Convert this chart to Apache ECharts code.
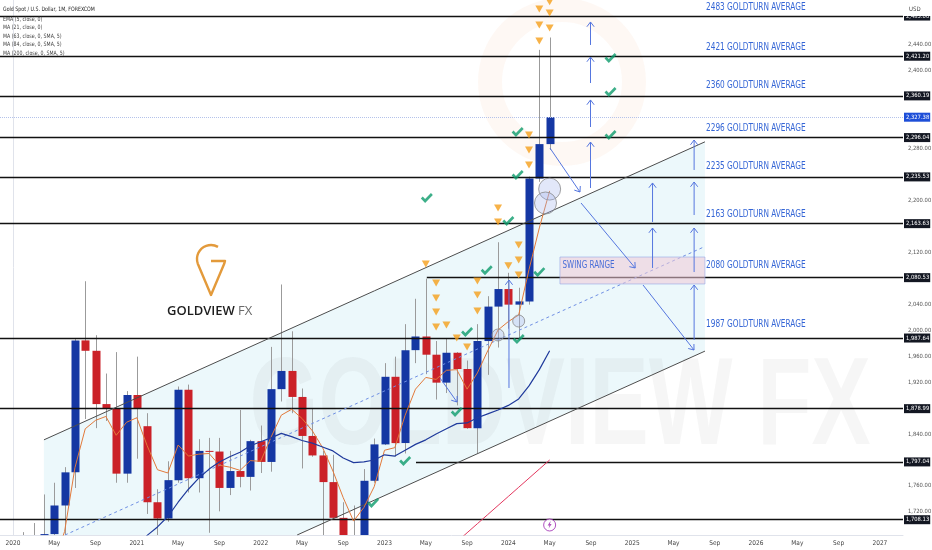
<!DOCTYPE html>
<html><head><meta charset="utf-8">
<script src="https://cdn.jsdelivr.net/npm/echarts@6/dist/echarts.min.js"></script>
<style>html,body{margin:0;padding:0;background:#fff}#c{width:932px;height:550px}</style>
</head><body><div id="c"></div><script>
// ---------- DATA ----------
const months = ['2020-01','2020-02','2020-03','2020-04','2020-05','2020-06','2020-07','2020-08','2020-09','2020-10','2020-11','2020-12',
'2021-01','2021-02','2021-03','2021-04','2021-05','2021-06','2021-07','2021-08','2021-09','2021-10','2021-11','2021-12',
'2022-01','2022-02','2022-03','2022-04','2022-05','2022-06','2022-07','2022-08','2022-09','2022-10','2022-11','2022-12',
'2023-01','2023-02','2023-03','2023-04','2023-05','2023-06','2023-07','2023-08','2023-09','2023-10','2023-11','2023-12',
'2024-01','2024-02','2024-03','2024-04','2024-05'];
const open  = [1517,1589,1585,1577,1686,1730,1781,1984,1968,1886,1879,1779, 1900,1852,1735,1710,1769,1908,1772,1814,1813,1757,1783,1774, 1829,1797,1909,1937,1897,1837,1807,1766,1711,1660,1633,1768, 1824,1928,1826,1969,1990,1962,1919,1965,1940,1849,1983,2036, 2063,2039,2044,2233,2286];
const high  = [1611,1689,1703,1747,1765,1789,1986,2075,1992,1933,1966,1906, 1959,1872,1755,1798,1913,1916,1832,1834,1834,1814,1877,1831, 1853,1974,2070,1998,1910,1880,1814,1808,1735,1730,1786,1833, 1949,1959,2009,2048,2079,1983,1987,1966,1953,2009,2052,2135, 2088,2065,2236,2431,2450];
const low   = [1517,1563,1451,1567,1670,1671,1757,1863,1849,1860,1765,1765, 1802,1717,1677,1705,1765,1750,1750,1688,1721,1746,1758,1753, 1780,1782,1890,1872,1787,1805,1681,1709,1615,1617,1616,1765, 1823,1805,1810,1949,1932,1893,1903,1884,1848,1810,1931,1973, 2002,1984,2039,2228,2277];
const close = [1589,1585,1577,1686,1730,1781,1984,1968,1886,1879,1779,1900, 1880,1735,1710,1769,1908,1772,1814,1813,1757,1783,1774,1829, 1797,1909,1937,1897,1837,1807,1766,1711,1660,1633,1768,1824, 1928,1826,1969,1990,1962,1919,1965,1940,1849,1983,2036,2063, 2039,2044,2233,2286,2327.38];
const ema5  = [1523,1544,1555,1600,1644,1690,1788,1848,1861,1867,1838,1858, 1865,1822,1785,1780,1823,1806,1809,1810,1792,1789,1784,1799, 1798,1835,1869,1878,1864,1845,1819,1783,1742,1706,1727,1759, 1815,1819,1869,1909,1927,1924,1938,1939,1909,1934,1968,2000, 2013,2023,2093,2157,2214];
const ma21Start = '2021-01';
const ma21 = [1665,1684,1697,1713,1735,1755,1772,1786,1797,1805,1812,1822, 1828,1834,1841,1836,1830,1826,1820,1814,1803,1796,1797,1800, 1808,1806,1815,1824,1831,1840,1848,1856,1857,1865,1871,1877, 1884,1894,1914,1939,1968];
const ma63Start = '2023-08';
const ma63 = [1674,1688,1702,1716,1730,1744,1758,1772,1786,1800];

const levels      = [2483.00,2421.20,2360.19,2296.04,2235.53,2163.63,2080.53,1987.64,1878.99,1797.04,1708.13];
const levelStarts = [null,null,null,null,null,null,40.1,null,null,39.05,null];
const lastPrice = 2327.38;

const goldturnText  = ['2483 GOLDTURN AVERAGE','2421 GOLDTURN AVERAGE','2360 GOLDTURN AVERAGE','2296 GOLDTURN AVERAGE','2235 GOLDTURN AVERAGE','2163 GOLDTURN AVERAGE','2080 GOLDTURN AVERAGE','1987 GOLDTURN AVERAGE'];
const goldturnPrice = [2496.9,2435.4,2376.9,2310.8,2252.3,2178.5,2100.0,2009.2];

const xTickLabels = ['2020','May','Sep','2021','May','Sep','2022','May','Sep','2023','May','Sep','2024','May','Sep','2025','May','Sep','2026','May','Sep','2027'];
const yTickValues = [1720,1760,1840,1920,1960,2000,2040,2120,2200,2280,2400,2440];

// drawings, in [month index, price]
const channelUpper = [[3,1831],[67.05,2289.5]];
const channelLower = [[27.53,1684.6],[67.05,1967.5]];
const channelMid   = [[5.04,1684.6],[67.05,2128.5]];
const channelFill  = [[3,1831],[67.05,2289.5],[67.05,1967.5],[27.53,1684.6],[3,1684.6]];
const triangles = [[40,2101.5],[41,2072.3],[41,2049.2],[41,2027.7],[41,2004.6],[42,2007.7],[43,1987.7],[44,1973.8],[45,2075.4],[45,2053.9],[45,2029.2],[47,2187.7],[47,2166.2],[48,2099],[49,2130.8],[49,2107.7],[49,2084.6],[50,2300],[50,2276.9],[50,2253.8],[51,2493.9],[51,2469.2],[51,2444.6],[52,2505],[52,2487.7],[52,2464.6]];
const checks = [[40.1,2203],[45.9,2092],[44,1997],[49,1986],[51,2089],[43,1874],[38,1798.5],[34.9,1734],[48.9,2304.6],[48.9,2238.5],[48,2167.7],[57.9,2418.5],[57.9,2366.2],[57.9,2300]];
const circles = [[52,2216.8,22],[51.6,2195.4,22],[47,1992.3,12],[49,2013.8,12]];
const arrows = [[55.96,2438.5,55.96,2473.9],[55.96,2380,55.96,2420],[55.96,2312.3,55.96,2353.9],[55.96,2218.5,55.96,2289.2],
 [61.97,2095.4,61.97,2156.9],[61.97,2166.2,61.97,2226.2],[66,1984.6,66,2069.2],[66,2089.2,66,2156.9],[66,2176.9,66,2227.7],[66,2246.2,66,2292.3],
 [48.06,1910.8,48.06,2076.9],[52.03,2280,54.94,2212.3],[55.04,2195.4,60.29,2095.4],[61.05,2069.2,65.99,1969.2],[41.38,1926.1,43.02,1889.2]];
const swingBox = [[53.0,2112.3],[67.05,2070.8]];
const eventIcon = [[52,1700]];

// ---------- CHART ----------
const mi = s => (+s.slice(0,4)-2020)*12 + (+s.slice(5,7)) - 1;
const X_MIN=-1.26, X_MAX=86.24, Y_MIN=1684.6, Y_MAX=2507.7;
const fmt = v => { const [a,b]=v.toFixed(2).split('.'); return a.replace(/\B(?=(\d{3})+(?!\d))/g,',')+'.'+b; };
const BLUE='#1537a3', RED='#cb2128', ARROW='#5576df';
const NARROW="'Liberation Sans Narrow','DejaVu Sans Condensed','Roboto Condensed','Liberation Sans',sans-serif";
const chart = echarts.init(document.getElementById('c'));

const ma21Data = ma21.map((v,i)=>[mi(ma21Start)+i, v]);
const ma63Data = ma63.map((v,i)=>[mi(ma63Start)+i, v]);

const mlData = levels.map((p,i)=> levelStarts[i]==null ? {name:fmt(p), yAxis:p}
  : [{name:fmt(p), coord:[levelStarts[i],p]},{coord:[X_MAX,p]}]);
mlData.unshift({name:fmt(lastPrice), yAxis:lastPrice, lineStyle:{color:'#b4c2ea', type:'dotted', width:1}, label:{backgroundColor:'#1d4ed8'}});

const legendLines = ['Gold Spot / U.S. Dollar, 1M, FOREXCOM','EMA (5, close, 0)','MA (21, close, 0)','MA (63, close, 0, SMA, 5)','MA (84, close, 0, SMA, 5)','MA (200, close, 0, SMA, 5)'];
const legendY = [9,19,27.5,36,44.5,53];
const D2R = Math.PI/180;

const option = {
  animation:false,
  backgroundColor:'#ffffff',
  grid:{left:0,right:29,top:0,bottom:15,containLabel:false,outerBoundsMode:'none'},
  xAxis:{type:'value',min:X_MIN,max:X_MAX,
    axisLine:{show:true,lineStyle:{color:'#e0e3eb'}},axisTick:{show:false},splitLine:{show:false},
    axisLabel:{customValues:xTickLabels.map((_,i)=>i*4),formatter:v=>xTickLabels[Math.round(v/4)],fontSize:6.5,color:'#444',margin:5,fontFamily:NARROW}},
  yAxis:{type:'value',position:'right',min:Y_MIN,max:Y_MAX,scale:true,
    axisLine:{show:true,lineStyle:{color:'#e0e3eb'}},axisTick:{show:false},splitLine:{show:false},
    axisLabel:{customValues:yTickValues,formatter:v=>fmt(v),fontSize:5.8,color:'#555',margin:5,fontFamily:NARROW}},
  graphic:[
    {type:'circle',z:2,silent:true,shape:{cx:562,cy:82,r:72},style:{fill:'none',stroke:'rgba(240,165,110,0.08)',lineWidth:24}},
    {type:'text',z:2,silent:true,x:560,y:410,scaleX:0.71,style:{x:0,y:0,text:'GOLDVIEW FX',font:'bold 125px "Liberation Sans", sans-serif',fill:'rgba(90,90,90,0.055)',align:'center',verticalAlign:'middle'}},
    {type:'arc',z:3,silent:true,shape:{cx:211,cy:259,r:14,startAngle:160*D2R,endAngle:300*D2R,clockwise:true},style:{fill:'none',stroke:'#e39a3b',lineWidth:2.4}},
    {type:'polyline',z:3,silent:true,shape:{points:[[197.8,263.8],[211,295],[224.2,263.8],[225,261],[211,261]]},style:{fill:'none',stroke:'#e39a3b',lineWidth:2.4,lineJoin:'round'}},
    {type:'text',z:3,silent:true,style:{x:167,y:311,text:'GOLDVIEW',font:'600 13px "Open Sans", sans-serif',fill:'#1e1e1e',align:'left',verticalAlign:'middle'}},
    {type:'text',z:3,silent:true,style:{x:238,y:311,text:'FX',font:'400 13px "Open Sans", sans-serif',fill:'#6a6a6a',align:'left',verticalAlign:'middle'}},
    ...legendLines.map((t,i)=>({type:'text',z:20,silent:true,x:3,y:legendY[i],scaleX:0.87,style:{x:0,y:0,text:t,font:'6px '+NARROW,fill:i===0?'#222':'#444',align:'left',verticalAlign:'middle'}})),
    {type:'rect',z:30,silent:true,shape:{x:904,y:0,width:28,height:16},style:{fill:'#fff'}},
    {type:'text',z:31,silent:true,style:{x:909,y:9,text:'USD',font:'6px '+NARROW,fill:'#444',align:'left',verticalAlign:'middle'}}
  ],
  series:[
    {type:'custom',z:1,silent:true,data:[channelFill[0]],
      renderItem:(p,api)=>({type:'polygon',shape:{points:channelFill.map(d=>api.coord(d))},style:{fill:'rgba(178,226,240,0.25)'}})},
    {type:'custom',name:'candles',z:4,silent:true,
      data:months.map((s,i)=>[mi(s),open[i],close[i],low[i],high[i]]),
      encode:{x:0,y:[1,2,3,4]},
      renderItem:(params,api)=>{
        const m=api.value(0),o=api.value(1),c=api.value(2),l=api.value(3),h=api.value(4);
        const cs=params.coordSys, top=cs.y, bot=cs.y+cs.height;
        const cl=y=>Math.max(top,Math.min(bot,y));
        const x=Math.round(api.coord([m,o])[0]);
        const yo=api.coord([m,o])[1], yc=api.coord([m,c])[1], yh=api.coord([m,h])[1], yl=api.coord([m,l])[1];
        const ch=[];
        const wt=cl(yh), wb=cl(yl);
        if(wb>wt) ch.push({type:'line',shape:{x1:x+0.5,y1:wt,x2:x+0.5,y2:wb},style:{stroke:'#9b9b9b',lineWidth:1}});
        const bt=cl(Math.min(yo,yc)), bb=cl(Math.max(yo,yc));
        if(bb>bt || (bt>top && bt<bot)) ch.push({type:'rect',shape:{x:x-3.5,y:bt,width:8,height:Math.max(1,bb-bt)},style:{fill:c>=o?BLUE:RED}});
        return {type:'group',children:ch};
      }},
    {type:'line',name:'channelUpper',z:5,silent:true,data:channelUpper,showSymbol:false,lineStyle:{color:'#4d4d4d',width:1},
      markLine:{silent:true,symbol:['none','none'],lineStyle:{color:'#111',width:1.3,type:'solid'},
        label:{show:true,position:'end',formatter:'{b}',distance:1,backgroundColor:'#131722',color:'#fff',fontSize:5.8,fontFamily:NARROW,padding:[1,1,1,2],lineHeight:7},
        data:mlData}},
    {type:'line',z:5,silent:true,data:channelLower,showSymbol:false,lineStyle:{color:'#4d4d4d',width:1}},
    {type:'line',z:5,silent:true,data:channelMid,showSymbol:false,lineStyle:{color:'#6f8fe3',width:1,type:[3,3]}},
    {type:'line',name:'EMA 5',z:6,silent:true,data:ema5.map((v,i)=>[mi(months[i]),v]),showSymbol:false,lineStyle:{color:'#e2793a',width:1}},
    {type:'line',name:'MA 21',z:6,silent:true,data:ma21Data,showSymbol:false,lineStyle:{color:'#1f3a9c',width:1.2}},
    {type:'line',name:'MA 63',z:6,silent:true,data:ma63Data,showSymbol:false,lineStyle:{color:'#e3375e',width:1}},
    {type:'custom',z:7,silent:true,data:[swingBox[0]],
      renderItem:(p,api)=>{const a=api.coord(swingBox[0]), b=api.coord(swingBox[1]);
        return {type:'group',children:[
          {type:'rect',shape:{x:a[0],y:a[1],width:b[0]-a[0],height:b[1]-a[1]},style:{fill:'rgba(240,200,215,0.55)',stroke:'rgba(140,160,230,0.55)',lineWidth:1}},
          {type:'text',x:a[0]+2.5,y:a[1]+8,scaleX:0.8,style:{x:0,y:0,text:'SWING RANGE',font:'10px '+NARROW,fill:'#4a6fd8',align:'left',verticalAlign:'middle'}}]};}},
    {type:'custom',z:8,silent:true,data:arrows,encode:{x:[0,2],y:[1,3]},
      renderItem:(p,api)=>{const a=api.coord([api.value(0),api.value(1)]), b=api.coord([api.value(2),api.value(3)]);
        const ang=Math.atan2(b[1]-a[1],b[0]-a[0]), L=6, w=0.65;
        const h1=[b[0]-L*Math.cos(ang-w),b[1]-L*Math.sin(ang-w)], h2=[b[0]-L*Math.cos(ang+w),b[1]-L*Math.sin(ang+w)];
        return {type:'group',children:[
          {type:'line',shape:{x1:a[0],y1:a[1],x2:b[0],y2:b[1]},style:{stroke:ARROW,lineWidth:1}},
          {type:'polyline',shape:{points:[h1,b,h2]},style:{stroke:ARROW,lineWidth:1,fill:null}}]};}},
    {type:'scatter',z:9,silent:true,data:circles.map(c=>[c[0],c[1]]),symbol:'circle',
      symbolSize:(v,p)=>circles[p.dataIndex][2],itemStyle:{color:'rgba(165,180,235,0.4)',borderColor:'#8a8a8a',borderWidth:1}},
    {type:'scatter',z:10,silent:true,data:triangles,symbol:'triangle',symbolRotate:180,symbolSize:[8,7],itemStyle:{color:'#f59f1a'}},
    {type:'scatter',z:10,silent:true,data:checks,symbol:'path://M0,6.2 L2.2,4 L5,6.8 L11.8,0 L14,2.2 L5,11.2 Z',symbolSize:[12,10],itemStyle:{color:'#0d9b6b'}},
    {type:'custom',z:10,silent:true,data:goldturnPrice.map((p,i)=>[67.15,p]),encode:{x:0,y:1},
      renderItem:(p,api)=>{const a=api.coord([api.value(0),api.value(1)]);
        return {type:'text',x:a[0],y:a[1],scaleX:0.82,style:{x:0,y:0,text:goldturnText[p.dataIndex],font:'10px '+NARROW,fill:'#3566d6',align:'left',verticalAlign:'middle'}};}},
    {type:'scatter',z:10,silent:true,data:eventIcon,symbol:'circle',symbolSize:12,itemStyle:{color:'#fff',borderColor:'#9c27b0',borderWidth:1}},
    {type:'scatter',z:11,silent:true,data:eventIcon,symbol:'path://M6,0 L1,7 L4.5,7 L3,12 L9,4.5 L5.5,4.5 L7,0 Z',symbolSize:[4,7],itemStyle:{color:'#9c27b0'}}
  ]
};
chart.setOption(option);
</script></body></html>
